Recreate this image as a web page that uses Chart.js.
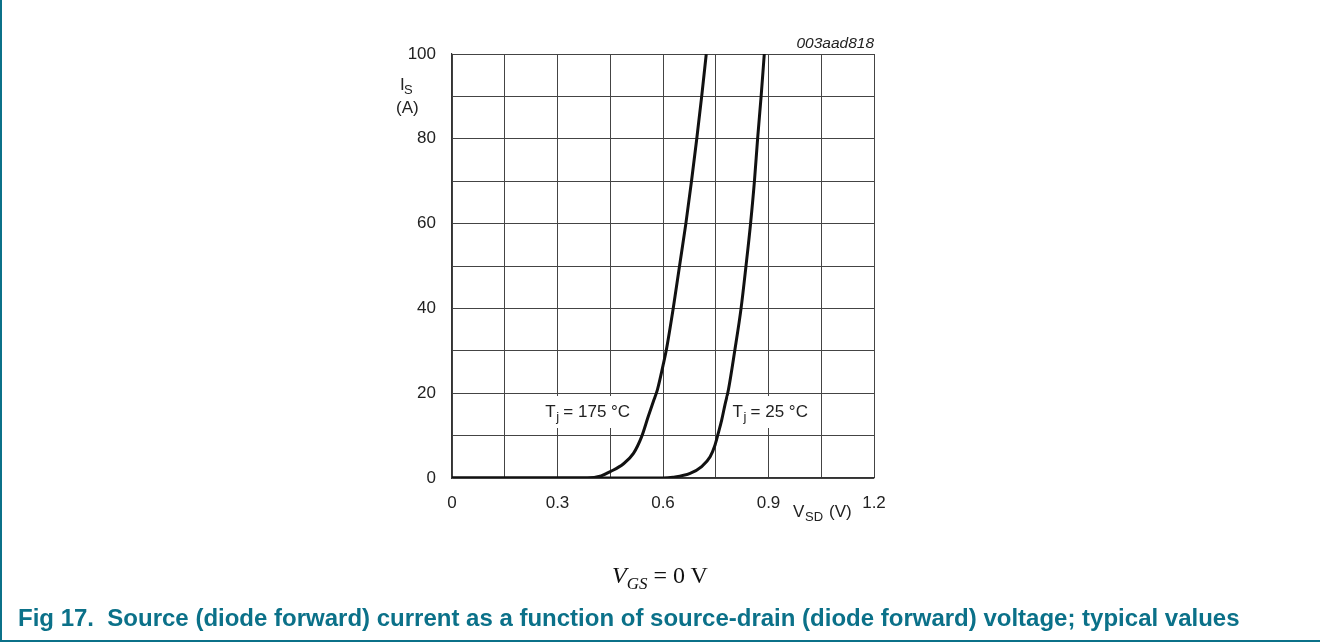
<!DOCTYPE html>
<html>
<head>
<meta charset="utf-8">
<script src="https://cdn.jsdelivr.net/npm/chart.js@4/dist/chart.umd.min.js"></script>
<style>
  body { margin: 0; background: #fff; }
  #wrap { position: relative; width: 1320px; height: 642px; overflow: hidden; }
  #grafico { position: absolute; left: 0; top: 0; }
  #frame { position: absolute; left: 0; top: 0; width: 1318px; height: 640px;
           border-left: 2px solid #0b7189; border-bottom: 2px solid #0b7189; }
  #vgs { position: absolute; left: 612px; top: 563px; font-family: "Liberation Serif", serif;
         font-size: 24px; line-height: 1; color: #111; white-space: nowrap; }
  #vgs sub { font-size: 17px; vertical-align: -6px; line-height: 1; }
  #caption { position: absolute; left: 18px; top: 606px; font-family: "Liberation Sans", Arial, sans-serif;
             font-weight: bold; font-size: 24px; line-height: 1; color: #0b7189; white-space: nowrap; }
</style>
</head>
<body>
<div id="wrap">
  <canvas id="grafico" width="1320" height="642"></canvas>
  <div id="frame"></div>
  <div id="vgs"><i>V</i><sub><i>GS</i></sub> = 0 V</div>
  <div id="caption">Fig 17.&nbsp;&nbsp;Source (diode forward) current as a function of source-drain (diode forward) voltage; typical values</div>
</div>
<script>
// values: VSD (V) and IS (A)
var vsd175 = [0, 0.1, 0.2, 0.3, 0.385, 0.424, 0.45, 0.487, 0.516, 0.539, 0.558, 0.574, 0.584, 0.6, 0.609, 0.629, 0.647, 0.665, 0.681, 0.696, 0.71, 0.723];
var is175  = [0, 0, 0, 0, 0, 0.5, 1.5, 3.3, 5.8, 9.7, 14.5, 18.4, 20.8, 26.5, 30, 40, 50, 60, 70, 80, 90, 100];
var vsd25  = [0, 0.2, 0.4, 0.5, 0.6, 0.629, 0.677, 0.71, 0.734, 0.748, 0.757, 0.767, 0.776, 0.786, 0.804, 0.822, 0.836, 0.849, 0.86, 0.869, 0.879, 0.888];
var is25   = [0, 0, 0, 0, 0, 0.2, 1.1, 2.7, 5, 7.8, 10.5, 13.7, 17.2, 20.8, 30, 40, 50, 60, 70, 80, 90, 100];
var xTickLabels = ["0", "0.3", "0.6", "0.9", "1.2"];
var yTickLabels = ["0", "20", "40", "60", "80", "100"];

function pts(xs, ys) {
    return xs.map(function (x, i) { return { x: x, y: ys[i] }; });
}

var fontFam = "'Liberation Sans', Arial, sans-serif";
var ink = "#222";

var textPlugin = {
    id: 'texts',
    afterDraw: function (chart) {
        var c = chart.ctx;
        var xs = chart.scales.x, ys = chart.scales.y;
        c.save();
        c.fillStyle = ink;
        c.textBaseline = 'alphabetic';

        // curve labels with white boxes
        function tjLabel(cx, cy, rest) {
            c.font = "17px " + fontFam;
            var wT = c.measureText("T").width;
            c.font = "13px " + fontFam;
            var wj = c.measureText("j").width;
            c.font = "17px " + fontFam;
            var wr = c.measureText(rest).width;
            var w = wT + wj + wr;
            var x0 = cx - w / 2;
            c.fillStyle = "#fff";
            c.fillRect(x0 - 4, cy - 15, w + 8, 32);
            c.fillStyle = ink;
            c.fillText("T", x0, cy + 6);
            c.font = "13px " + fontFam;
            c.fillText("j", x0 + wT + 0.5, cy + 10);
            c.font = "17px " + fontFam;
            c.fillText(rest, x0 + wT + wj, cy + 6);
        }
        tjLabel(xs.getPixelForValue(0.386), ys.getPixelForValue(15.8), " = 175 \u00B0C");
        tjLabel(xs.getPixelForValue(0.905), ys.getPixelForValue(15.8), " = 25 \u00B0C");

        // y axis title
        c.textAlign = 'left';
        c.font = "17px " + fontFam;
        c.fillText("I", 400, 90);
        c.font = "13px " + fontFam;
        c.fillText("S", 404, 94);
        c.font = "17px " + fontFam;
        c.fillText("(A)", 396, 113);

        // x axis title
        c.fillText("V", 793, 517);
        c.font = "13px " + fontFam;
        c.fillText("SD", 805, 521);
        c.font = "17px " + fontFam;
        c.fillText("(V)", 829, 517);

        // figure id
        c.font = "italic 15.5px " + fontFam;
        c.textAlign = 'right';
        c.fillText("003aad818", xs.right, 48);
        c.restore();
    }
};

var ctx = document.getElementById("grafico").getContext('2d');
var grafico = new Chart(ctx, {
    type: 'scatter',
    data: {
        datasets: [
            {
                label: "Tj = 175 °C",
                data: pts(vsd175, is175),
                showLine: true,
                borderColor: "#111",
                borderWidth: 3,
                pointRadius: 0,
                cubicInterpolationMode: 'monotone'
            },
            {
                label: "Tj = 25 °C",
                data: pts(vsd25, is25),
                showLine: true,
                borderColor: "#111",
                borderWidth: 3,
                pointRadius: 0,
                cubicInterpolationMode: 'monotone'
            }
        ]
    },
    options: {
        responsive: false,
        animation: false,
        devicePixelRatio: 1,
        layout: { padding: { left: 0, top: 54, right: 446, bottom: 0 } },
        plugins: { legend: { display: false }, tooltip: { enabled: false } },
        scales: {
            x: {
                type: 'linear',
                min: 0,
                max: 1.2,
                afterFit: function (s) { s.height = 164; },
                afterBuildTicks: function (s) {
                    var t = [];
                    for (var i = 0; i <= 8; i++) t.push({ value: i * 0.15 });
                    s.ticks = t;
                },
                ticks: {
                    padding: 15,
                    color: ink,
                    maxRotation: 0,
                    font: { family: fontFam, size: 17 },
                    callback: function (v, i) { return i % 2 === 0 ? xTickLabels[i / 2] : ""; }
                },
                grid: { color: "#444", lineWidth: 1, drawTicks: false },
                border: { color: "#333", width: 1.2 }
            },
            y: {
                type: 'linear',
                min: 0,
                max: 100,
                afterFit: function (s) { s.width = 452; },
                afterBuildTicks: function (s) {
                    var t = [];
                    for (var i = 0; i <= 10; i++) t.push({ value: i * 10 });
                    s.ticks = t;
                },
                ticks: {
                    padding: 16,
                    color: ink,
                    font: { family: fontFam, size: 17 },
                    callback: function (v, i) { return i % 2 === 0 ? yTickLabels[i / 2] : ""; }
                },
                grid: { color: "#444", lineWidth: 1, drawTicks: false },
                border: { color: "#333", width: 1.2 }
            }
        }
    },
    plugins: [textPlugin]
});
</script>
</body>
</html>
